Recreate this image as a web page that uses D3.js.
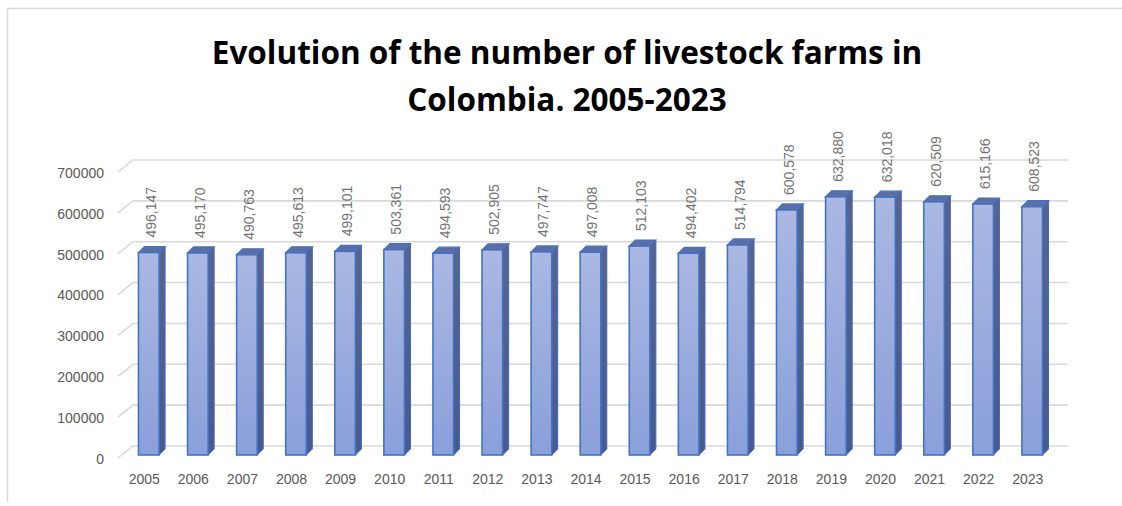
<!DOCTYPE html>
<html>
<head>
<meta charset="utf-8" />
<style>
	body { margin: 0; background: #fff; overflow: hidden; }
	text { font-family: "Liberation Sans", Arial, sans-serif; }
	.title { font-family: "Open Sans", "Noto Sans", sans-serif; font-weight: bold; font-size: 31.5px; fill: #000; }
	.lab { font-size: 14px; fill: #595959; }
	.dlab { font-size: 14px; fill: #737373; }
</style>
</head>
<body>
<svg id="chart" width="1122" height="506"></svg>
<script src="https://cdnjs.cloudflare.com/ajax/libs/d3/7.8.5/d3.min.js"></script>
<script>
	// data
	const years = ['2005', '2006', '2007', '2008', '2009', '2010', '2011', '2012', '2013', '2014',
		'2015', '2016', '2017', '2018', '2019', '2020', '2021', '2022', '2023'];
	const farms = [496147, 495170, 490763, 495613, 499101, 503361, 494593, 502905, 497747, 497008,
		512103, 494402, 514794, 600578, 632880, 632018, 620509, 615166, 608523];
	const yTicks = [0, 100000, 200000, 300000, 400000, 500000, 600000, 700000];
	const titleLines = ['Evolution of the number of livestock farms in', 'Colombia. 2005-2023'];

	const svg = d3.select('#chart');
	const depth = 6;       // bar 3d offset
	const wallDx = 15, wallDy = 12;

	// scales
	let yBack = d3.scaleLinear().domain([0, 700000]).range([446, 160]);
	let yFront = d3.scaleLinear().domain([0, 700000]).range([455, 169.4]);
	let x = d3.scaleBand().domain(years).range([110, 1071]).padding(0.58);

	// frame (only top + left edges visible)
	svg.append('line').attr('x1', 7.5).attr('y1', 8.5).attr('x2', 1122).attr('y2', 8.5)
		.attr('stroke', '#d9d9d9').attr('stroke-width', 1.5);
	svg.append('line').attr('x1', 7.5).attr('y1', 8.5).attr('x2', 7.5).attr('y2', 502)
		.attr('stroke', '#d9d9d9').attr('stroke-width', 1.5);

	// title
	svg.append('text').attr('class', 'title').attr('text-anchor', 'middle')
		.selectAll('tspan').data(titleLines).join('tspan')
		.attr('x', 567).attr('y', (d, i) => 64 + i * 46.5)
		.text(d => d);

	// gradients
	const defs = svg.append('defs');
	const gFront = defs.append('linearGradient').attr('id', 'gFront')
		.attr('x1', 0).attr('y1', 0).attr('x2', 0).attr('y2', 1);
	gFront.append('stop').attr('offset', '0%').attr('stop-color', '#aab8e2');
	gFront.append('stop').attr('offset', '100%').attr('stop-color', '#8aa0da');
	const gSide = defs.append('linearGradient').attr('id', 'gSide')
		.attr('x1', 0).attr('y1', 0).attr('x2', 0).attr('y2', 1);
	gSide.append('stop').attr('offset', '0%').attr('stop-color', '#56648f');
	gSide.append('stop').attr('offset', '100%').attr('stop-color', '#475a90');

	// gridlines on the back wall, with the side wall diagonal
	const grid = svg.append('g').attr('stroke', '#d9d9d9').attr('stroke-width', 1.6).attr('fill', 'none');
	grid.selectAll('path').data(yTicks).join('path')
		.attr('d', d => `M${118},${yBack(d) + wallDy}L${118 + wallDx},${yBack(d)}L1068,${yBack(d)}`);

	// y axis labels
	svg.append('g').selectAll('text').data(yTicks).join('text')
		.attr('class', 'lab').attr('text-anchor', 'end')
		.attr('x', 104).attr('y', d => yBack(d) + 13).attr('dy', '0.35em')
		.text(d => d);

	// bars
	const bars = svg.append('g').selectAll('g').data(years.map((y, i) => ({ year: y, value: farms[i] })))
		.join('g');
	const bw = x.bandwidth();
	const base = yFront(0);

	bars.append('path')
		.attr('d', d => {
			const x0 = x(d.year) + bw, t = yFront(d.value);
			return `M${x0},${t}L${x0 + depth},${t - depth}L${x0 + depth},${base - depth}L${x0},${base}Z`;
		})
		.attr('fill', 'url(#gSide)').attr('stroke', '#4568b8').attr('stroke-width', 1);

	bars.append('path')
		.attr('d', d => {
			const x0 = x(d.year), t = yFront(d.value);
			return `M${x0},${t}L${x0 + depth},${t - depth}L${x0 + bw + depth},${t - depth}L${x0 + bw},${t}Z`;
		})
		.attr('fill', '#5d6ea5').attr('stroke', '#4470c6').attr('stroke-width', 1.2);

	bars.append('rect')
		.attr('x', d => x(d.year)).attr('y', d => yFront(d.value))
		.attr('width', bw).attr('height', d => base - yFront(d.value))
		.attr('fill', 'url(#gFront)').attr('stroke', '#4472c4').attr('stroke-width', 1.6);

	// data labels
	const fmt = d3.format(',');
	bars.append('text').attr('class', 'dlab')
		.attr('transform', d => `translate(${x(d.year) + bw / 2 + 2},${yFront(d.value) - 15}) rotate(-90)`)
		.attr('dy', '0.35em')
		.text(d => fmt(d.value));

	// x axis labels
	svg.append('g').selectAll('text').data(years).join('text')
		.attr('class', 'lab').attr('text-anchor', 'middle')
		.attr('x', d => x(d) + bw / 2 - 4.5).attr('y', 484)
		.text(d => d);
</script>
</body>
</html>
